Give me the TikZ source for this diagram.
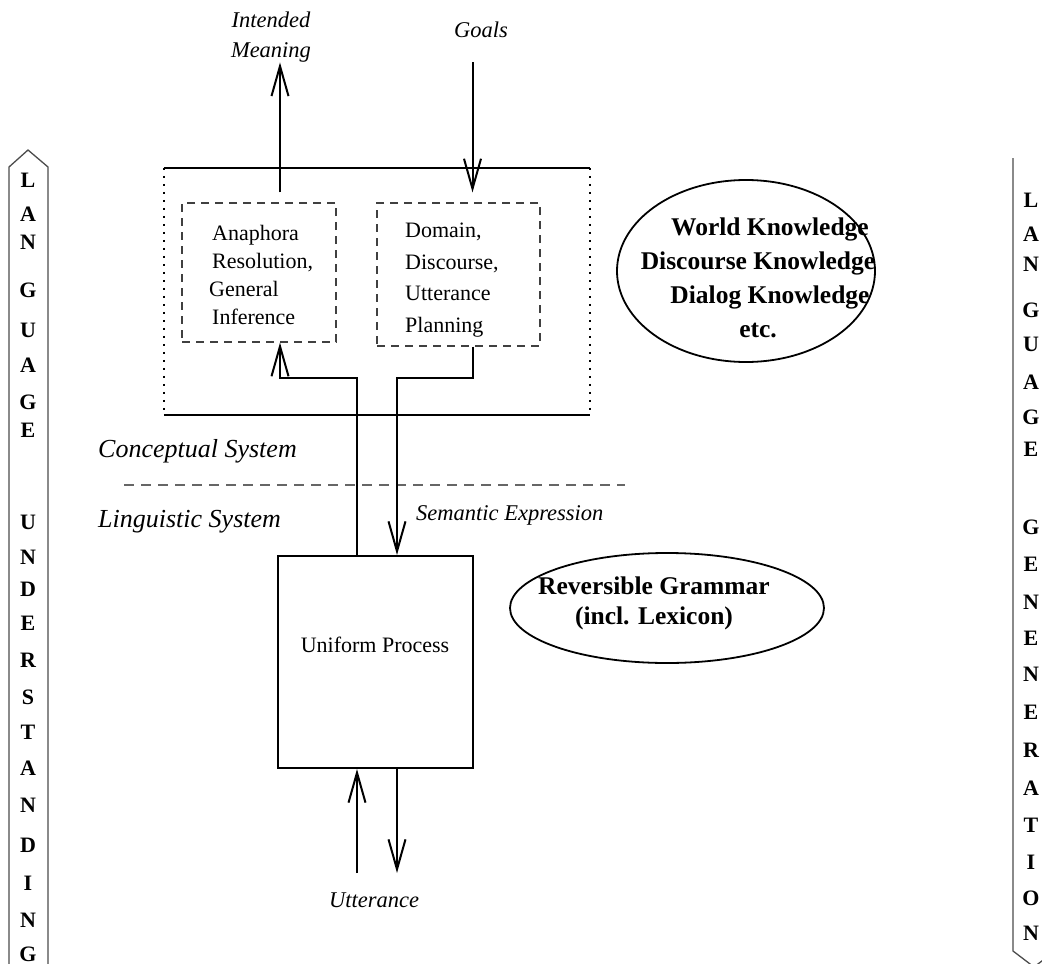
\documentclass[tikz,border=0pt]{standalone}
\usepackage{fontspec}
\setmainfont{Liberation Serif}
\usetikzlibrary{arrows.meta,shapes.geometric,calc}
\newcommand\myfs[2]{\fontsize{#1}{#2}\selectfont}
\begin{document}
\begin{tikzpicture}[x=1pt,y=-1pt,
  solidline/.style={line width=2pt},
  dotline/.style={line width=2pt,dash pattern=on 2pt off 6pt},
  arr/.style={line width=2pt,-{Straight Barb[length=30pt,width=17pt,line width=2pt]}},
  dbox/.style={draw=black!75,line width=1.2pt,dash pattern=on 8pt off 6pt,inner sep=0pt},
  boxtext/.style={inner sep=0pt,align=left,anchor=west},
  colshape/.style={draw=black!70,line width=1.3pt},
  colletter/.style={font=\myfs{22}{26}\bfseries,inner sep=0pt},
  ital/.style={font=\myfs{22.5}{30}\itshape,inner sep=0pt,align=center},
  bigital/.style={font=\myfs{26}{30}\itshape,inner sep=0pt,anchor=west},
  ell/.style={draw,ellipse,line width=1.8pt,inner sep=0pt},
  boldtext/.style={font=\myfs{25.5}{34}\bfseries,inner sep=0pt,align=center}
]
\useasboundingbox (0,0) rectangle (1042,964);

% side columns
\draw[colshape] (9,980) -- (9,167) -- (28,150) -- (48,167) -- (48,980);
\draw[colshape] (1013,158) -- (1013,951) -- (1034,967) -- (1055,951);
\foreach \l/\y [count=\i] in {L/180,A/214,N/242,G/290,U/330,A/365,G/402,E/430,U/522,N/557,D/589,E/623,R/660,S/697,T/732,A/768,N/805,D/845,I/883,N/920,G/954}
  \node[colletter] (lu\i) at (28,\y) {\l};
\foreach \l/\y [count=\i] in {L/200,A/234,N/264,G/310,U/344,A/382,G/417,E/449,G/527,E/564,N/602,E/638,N/674,E/712,R/750,A/788,T/825,I/862,O/898,N/933}
  \node[colletter] (lg\i) at (1031,\y) {\l};

% conceptual system box
\node[minimum width=426pt,minimum height=247pt,inner sep=0pt] (csys) at (377,291.5) {};
\draw[solidline] (csys.north west) -- (csys.north east);
\draw[solidline] (csys.south west) -- (csys.south east);
\draw[dotline] (csys.north west) -- (csys.south west);
\draw[dotline] (csys.north east) -- (csys.south east);

\node[dbox,minimum width=154pt,minimum height=139pt] (ana) at (259,272.5) {};
\node[boxtext,font=\myfs{22}{28}] (anat) at (209,275) {\hspace*{3pt}Anaphora\\\hspace*{3pt}Resolution,\\General\\\hspace*{3pt}Inference};
\node[dbox,minimum width=163pt,minimum height=143pt] (plan) at (458.5,274.5) {};
\node[boxtext,font=\myfs{22}{31.5}] (plant) at (405,280) {Domain,\\Discourse,\\Utterance\\Planning};

% labels
\node[ital] (im) at (271,37) {Intended\\Meaning};
\node[ital] (goals) at (481,30) {Goals};
\node[bigital] (cs) at (98,451) {Conceptual System};
\node[bigital] (ls) at (98,522) {Linguistic System};
\node[ital,anchor=west] (se) at (416,515) {Semantic Expression};
\node[ital] (utt) at (374,900) {Utterance};

\coordinate (sepL) at (124,485);
\coordinate (sepR) at (625,485);
\draw[draw=black!60,line width=1.3pt,dash pattern=on 10pt off 7pt] (sepL) -- (sepR);

% uniform process
\node[draw,line width=2pt,minimum width=195pt,minimum height=212pt,inner sep=0pt] (up) at (375.5,662) {};
\node[font=\myfs{22}{26},inner sep=0pt] (uptext) at (375,645) {Uniform Process};

% ellipses
\node[ell,minimum width=258pt,minimum height=182pt] (wk) at (746,271) {};
\node[boldtext] (wkt) at (758,278) {\hspace*{24pt}World Knowledge\\Discourse Knowledge\\\hspace*{24pt}Dialog Knowledge\\etc.};
\node[ell,minimum width=314pt,minimum height=110pt] (rg) at (667,608) {};
\node[boldtext,font=\myfs{25.5}{30}\bfseries] (rgt) at (654,603) {Reversible Grammar\\(incl. Lexicon)};

% connectors
\draw[arr] (ana.north) ++(21,-10) -- ++(0,-130);
\draw[arr] (plan.north) ++(14,-140) -- ++(0,130);
\coordinate (jA) at (280,378);
\coordinate (jB) at (397,378);
\draw[arr] ([xshift=-18.5pt]up.north) |- (jA) -- (jA |- ana.south);
\draw[arr] ([xshift=14.5pt]plan.south) |- (jB) -- (jB |- up.north);
\draw[arr] (up.south) ++(-18.5,104) -- ++(0,-104);
\draw[arr] (up.south) ++(21.5,0) -- ++(0,104);
\end{tikzpicture}
\end{document}
